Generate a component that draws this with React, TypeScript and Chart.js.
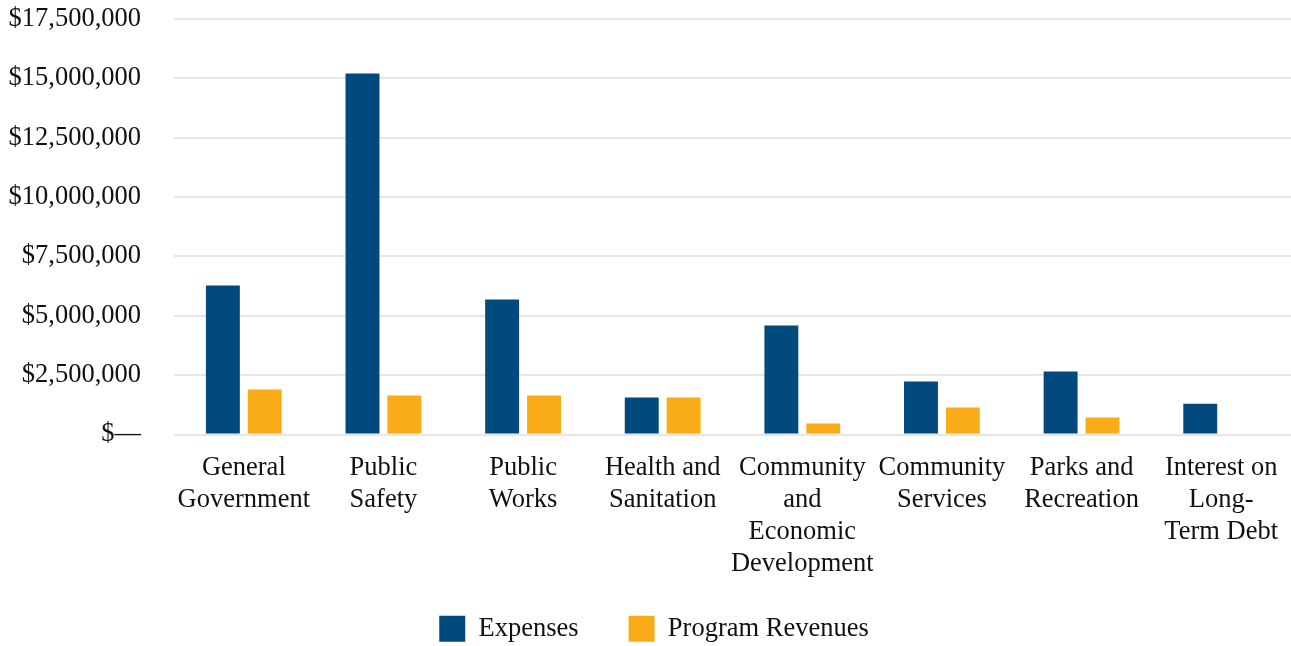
import React, { useEffect, useRef } from "react";
import { Chart, registerables } from "chart.js";

Chart.register(...registerables);

const categories: string[][] = [
  ["General", "Government"],
  ["Public", "Safety"],
  ["Public", "Works"],
  ["Health and", "Sanitation"],
  ["Community", "and", "Economic", "Development"],
  ["Community", "Services"],
  ["Parks and", "Recreation"],
  ["Interest on", "Long-", "Term Debt"],
];

const expenses: number[] = [6270000, 15200000, 5680000, 1560000, 4590000, 2230000, 2650000, 1300000];
const programRevenues: number[] = [1890000, 1640000, 1640000, 1560000, 460000, 1140000, 720000, 0];

const yMax = 17500000;
const yStep = 2500000;

const FONT = '"Liberation Serif", "Times New Roman", serif';
const FS = 26.5;
const CLEAR = "rgba(0,0,0,0)";

export default function App() {
  const ref = useRef<HTMLCanvasElement | null>(null);

  useEffect(() => {
    if (!ref.current) return;
    const chart = new Chart(ref.current, {
      type: "bar",
      data: {
        labels: categories,
        datasets: [
          {
            label: "Expenses",
            data: expenses,
            backgroundColor: "#024A7E",
            categoryPercentage: 0.6,
            barPercentage: 0.81,
          },
          {
            label: "Program Revenues",
            data: programRevenues,
            backgroundColor: "#F9AC17",
            categoryPercentage: 0.6,
            barPercentage: 0.81,
          },
        ],
      },
      options: {
        animation: false,
        responsive: true,
        maintainAspectRatio: false,
        layout: { padding: { left: 17, right: 0, top: 0, bottom: -6 } },
        plugins: {
          legend: {
            position: "bottom",
            labels: {
              boxWidth: 26,
              boxHeight: 26,
              padding: 50,
              color: "#111",
              font: { family: FONT, size: FS },
            },
          },
          tooltip: { enabled: false },
        },
        scales: {
          x: {
            grid: { display: true, drawOnChartArea: false, drawTicks: true, tickLength: 15, tickColor: CLEAR, color: CLEAR },
            border: { display: false },
            ticks: {
              color: "#111",
              font: { family: FONT, size: FS, lineHeight: 1.2 },
              padding: 3,
              maxRotation: 0,
              autoSkip: false,
            },
            afterFit: (scale: any) => {
              scale.height = 131;
              scale._computeLabelArea = () => undefined;
            },
          },
          y: {
            min: 0,
            max: yMax,
            grid: { color: "#e6e6e6", lineWidth: 2, drawTicks: true, tickLength: 30, tickColor: CLEAR },
            border: { display: false },
            ticks: {
              stepSize: yStep,
              padding: 3,
              color: "#111",
              font: { family: FONT, size: FS, lineHeight: 1.2 },
              callback: (v: any) => {
                const n = Number(v);
                if (n === 0) return "$\u2014";
                return "$" + n.toLocaleString("en-US");
              },
            },
            afterFit: (scale: any) => {
              scale.width = 157;
              scale._computeLabelArea = () => undefined;
            },
          },
        },
      },
    });
    return () => chart.destroy();
  }, []);

  return (
    <div style={{ position: "fixed", left: 0, top: 0, width: 1291, height: 646, background: "#fff" }}>
      <canvas ref={ref} />
    </div>
  );
}
